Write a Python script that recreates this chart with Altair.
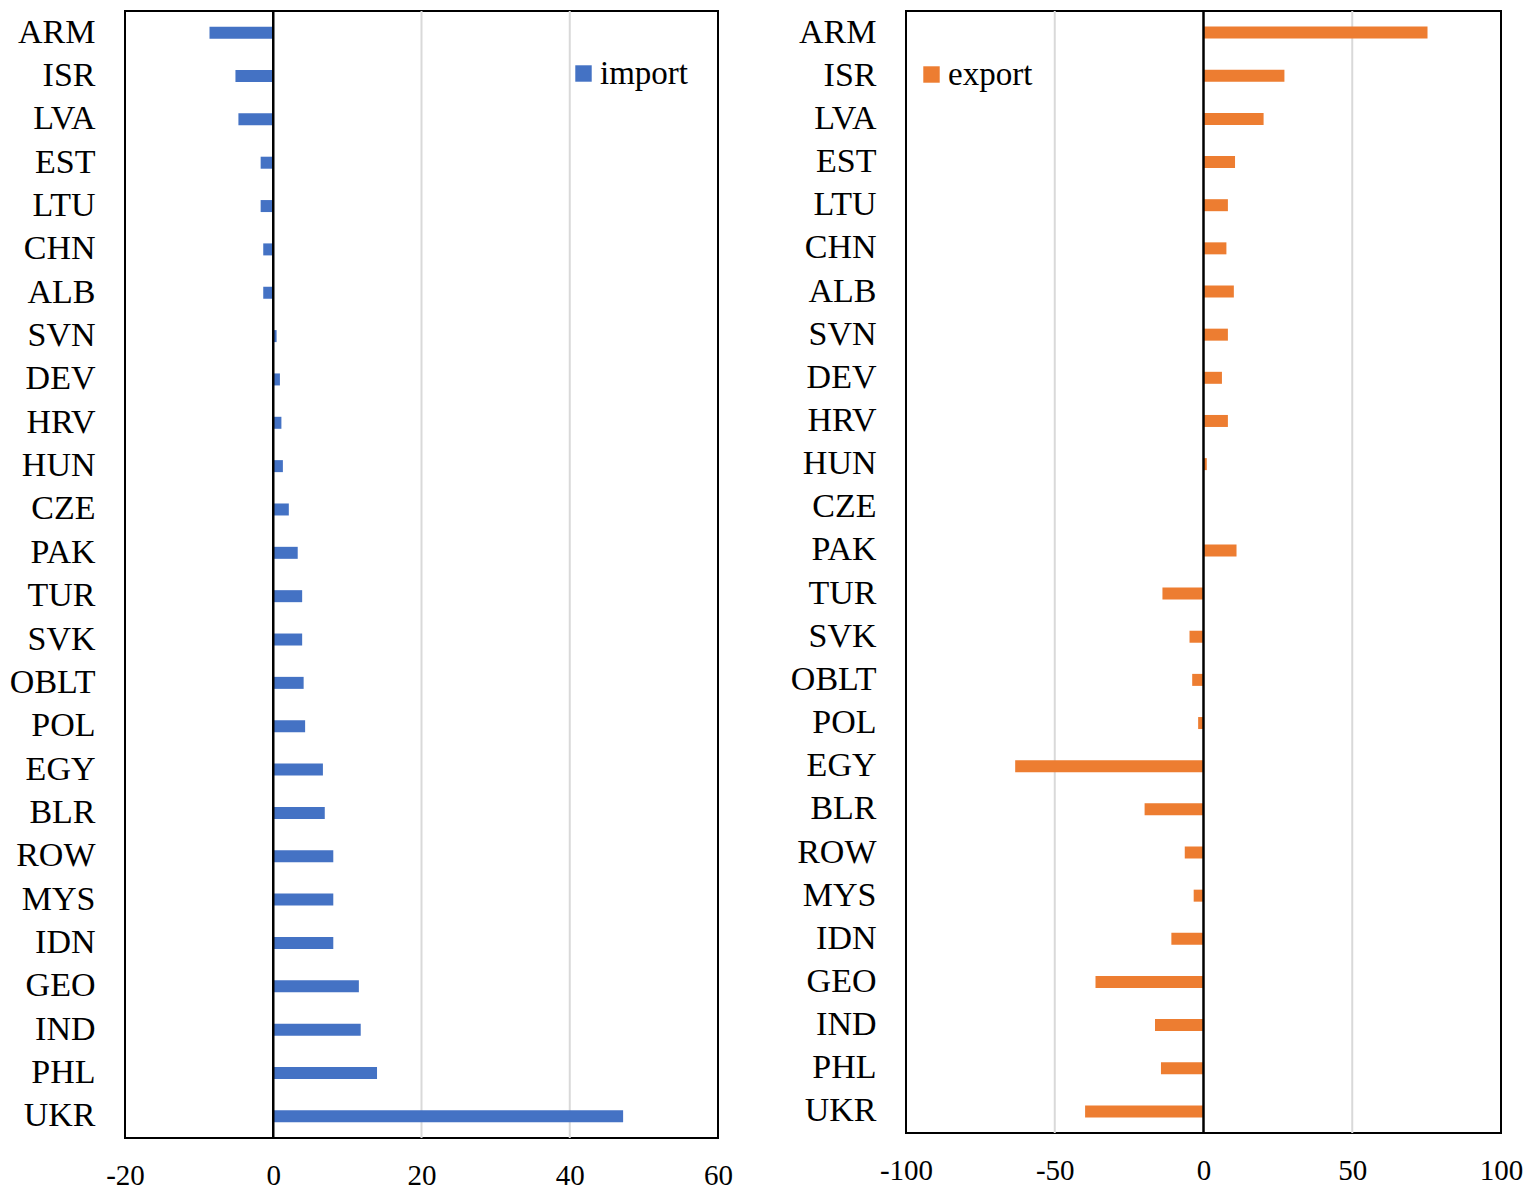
import altair as alt
import pandas as pd

countries = ["ARM", "ISR", "LVA", "EST", "LTU", "CHN", "ALB", "SVN", "DEV", "HRV",
             "HUN", "CZE", "PAK", "TUR", "SVK", "OBLT", "POL", "EGY", "BLR", "ROW",
             "MYS", "IDN", "GEO", "IND", "PHL", "UKR"]
import_vals = [-8.6, -5.1, -4.7, -1.7, -1.7, -1.35, -1.35, 0.45, 0.9, 1.1,
               1.3, 2.1, 3.3, 3.9, 3.9, 4.1, 4.3, 6.7, 6.95, 8.1,
               8.1, 8.1, 11.55, 11.8, 14.0, 47.2]
export_vals = [75.3, 27.2, 20.2, 10.6, 8.2, 7.7, 10.2, 8.2, 6.2, 8.2,
               1.1, 0.0, 11.1, -13.8, -4.7, -3.8, -1.8, -63.3, -19.8, -6.3,
               -3.3, -10.8, -36.3, -16.3, -14.3, -39.8]

left_ticks = [-20, 0, 20, 40, 60]
right_ticks = [-100, -50, 0, 50, 100]
left_grid = [20, 40]
right_grid = [-50, 50]

FONT = "Liberation Serif"

df_imp = pd.DataFrame({"country": countries, "value": import_vals, "series": "import"})
df_exp = pd.DataFrame({"country": countries, "value": export_vals, "series": "export"})
zero = pd.DataFrame({"zero": [0]})


def panel(df, name, color, ticks, grid, width, height, lx, ly):
    xscale = alt.Scale(domain=[ticks[0], ticks[-1]], nice=False, zero=False)
    gridlines = alt.Chart(pd.DataFrame({"g": grid})).mark_rule(
        color="#d9d9d9", strokeWidth=2
    ).encode(x=alt.X("g:Q", scale=xscale))
    bars = alt.Chart(df).mark_bar(size=12).encode(
        x=alt.X("value:Q", scale=xscale,
                axis=alt.Axis(values=ticks, title=None, domain=False, ticks=False,
                              labelPadding=23, grid=False, labelFontSize=29, labelFont=FONT,
                              labelColor="black", labelFlush=False,
                              labelExpr="'' + datum.value")),
        y=alt.Y("country:N", sort=countries,
                scale=alt.Scale(paddingInner=0.72, paddingOuter=0.36),
                axis=alt.Axis(title=None, domain=False, ticks=False, labelPadding=30,
                              labelFontSize=34, labelFont=FONT, labelColor="black")),
        color=alt.Color("series:N",
                        scale=alt.Scale(domain=[name], range=[color]),
                        legend=alt.Legend(title=None, orient="none", legendX=lx, legendY=ly,
                                          symbolType="square", symbolSize=270,
                                          symbolStrokeWidth=0, labelFont=FONT,
                                          labelFontSize=33, labelColor="black",
                                          padding=0, labelOffset=0)),
    )
    rule = alt.Chart(zero).mark_rule(color="black", strokeWidth=2.5).encode(x="zero:Q")
    return alt.layer(gridlines, bars, rule).properties(width=width, height=height)


left = panel(df_imp, "import", "#4472C4", left_ticks, left_grid, 593, 1127, 442, 46)
right = panel(df_exp, "export", "#ED7D31", right_ticks, right_grid, 595, 1122, 9, 47)

chart = alt.hconcat(left, right, spacing=55).resolve_scale(color="independent").properties(
    padding=0
).configure(
    background="white"
).configure_view(
    stroke="black", strokeWidth=2
)

chart.save("out.html", embed_options={"renderer": "svg", "actions": False})
